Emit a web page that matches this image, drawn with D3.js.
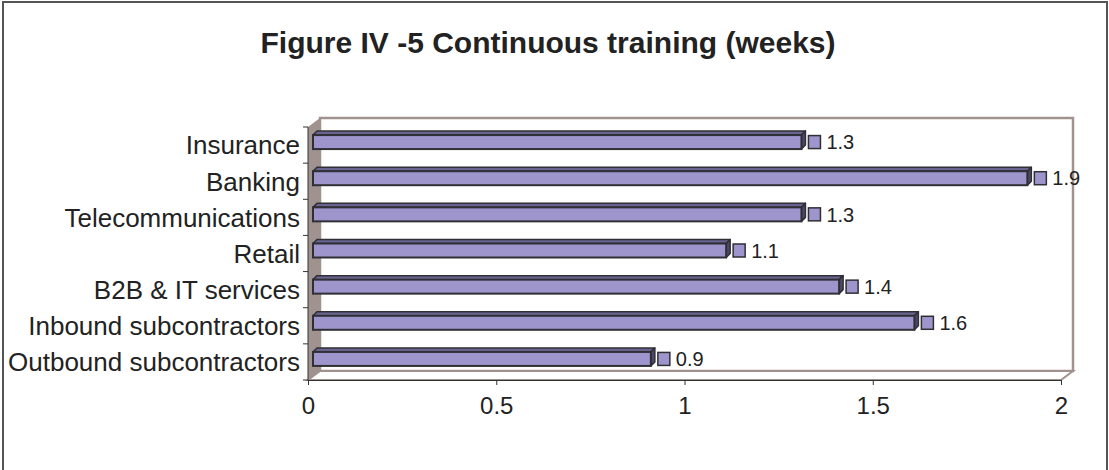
<!DOCTYPE html>
<html><head><meta charset="utf-8">
<script src="https://cdn.jsdelivr.net/npm/d3@7"></script>
<style>body{margin:0;background:#fff}svg{display:block;font-family:"Liberation Sans",Arial,sans-serif}</style>
</head><body><svg id="c" width="1109" height="470"></svg>
<script>
const categories = ["Insurance","Banking","Telecommunications","Retail","B2B & IT services","Inbound subcontractors","Outbound subcontractors"];
const values = [1.3,1.9,1.3,1.1,1.4,1.6,0.9];
const xTicks = [0,0.5,1,1.5,2];
const title = "Figure IV -5 Continuous training (weeks)";

(function(){
const svg = d3.select("#c");
svg.append("rect").attr("x",3).attr("y",2).attr("width",1104).attr("height",480)
  .attr("fill","#fff").attr("stroke","#555").attr("stroke-width",2);

const x = d3.scaleLinear().domain([0,2]).range([308,1061]);
const y = d3.scaleBand().domain(categories).range([127,380]).paddingInner(0).paddingOuter(0);
const DX = 12, DY = -9;
const wallC = "#A0928E";

const g = svg.append("g");
g.append("rect").attr("x",x(0)+DX).attr("y",127+DY).attr("width",x(2)-x(0)).attr("height",380-127)
  .attr("fill","#fff").attr("stroke",wallC).attr("stroke-width",2.5);
g.append("path").attr("d",`M${x(0)},380 L${x(0)+DX},${380+DY} L${x(2)+DX},${380+DY} L${x(2)},380 Z`)
  .attr("fill","#fff").attr("stroke",wallC).attr("stroke-width",2);
g.append("path").attr("d",`M${x(0)},127 L${x(0)+DX},${127+DY} L${x(0)+DX},${380+DY} L${x(0)},380 Z`)
  .attr("fill",wallC).attr("stroke","none");

const xAxis = d3.axisBottom(x).tickValues(xTicks).tickSize(5).tickPadding(12).tickFormat(d3.format("~g"));
const xa = svg.append("g").attr("transform","translate(0,380)").call(xAxis);
xa.select(".domain").attr("stroke","#333");
xa.selectAll(".tick line").attr("stroke","#333");
xa.selectAll(".tick text").attr("font-size",24).attr("fill","#222").attr("font-family","Liberation Sans, Arial, sans-serif");

const ya = svg.append("g").attr("transform",`translate(${x(0)},0)`);
ya.append("line").attr("x1",0).attr("x2",0).attr("y1",127).attr("y2",380).attr("stroke","#333");
const bounds = categories.map(c=>y(c)).concat([380]);
ya.selectAll(".yt").data(bounds).enter().append("line")
  .attr("x1",-5).attr("x2",0).attr("y1",d=>d).attr("y2",d=>d).attr("stroke","#333");
ya.selectAll(".yl").data(categories).enter().append("text")
  .attr("x",-8).attr("y",d=>y(d)+y.bandwidth()/2).attr("dy","0.36em")
  .attr("text-anchor","end").attr("font-size",26).attr("fill","#222").text(d=>d);

const PX = 4, PY = -3, BH = 14, bdx = 4, bdy = -4;
const cFront="#9D95CB", cTop="#6A6490", cSide="#4D4866", cStroke="#2f2f35";
const bars = svg.append("g");
categories.forEach((c,i)=>{
  const v = values[i];
  const x0 = x(0)+PX+1, x1 = x(v)+PX;
  const cy = y(c)+y.bandwidth()/2+PY;
  const y0 = cy-BH/2, y1 = cy+BH/2;
  bars.append("path").attr("d",`M${x0},${y0} L${x0+bdx},${y0+bdy} L${x1+bdx},${y0+bdy} L${x1},${y0} Z`)
    .attr("fill",cTop).attr("stroke",cStroke).attr("stroke-width",1.5).attr("stroke-linejoin","round");
  bars.append("path").attr("d",`M${x1},${y0} L${x1+bdx},${y0+bdy} L${x1+bdx},${y1+bdy} L${x1},${y1} Z`)
    .attr("fill",cSide).attr("stroke",cStroke).attr("stroke-width",1.5).attr("stroke-linejoin","round");
  bars.append("rect").attr("x",x0).attr("y",y0).attr("width",x1-x0).attr("height",BH)
    .attr("fill",cFront).attr("stroke",cStroke).attr("stroke-width",2);
  const sx = x1+bdx+3;
  bars.append("rect").attr("x",sx).attr("y",cy-6.5).attr("width",12).attr("height",13)
    .attr("fill",cFront).attr("stroke",cStroke).attr("stroke-width",1.5);
  bars.append("text").attr("x",sx+18).attr("y",cy).attr("dy","0.36em")
    .attr("font-size",20).attr("fill","#222").text(d3.format(".1f")(v));
});

svg.append("text").attr("x",548).attr("y",53).attr("text-anchor","middle")
  .attr("font-size",30).attr("font-weight","bold").attr("fill","#222").text(title);
})();
</script></body></html>
